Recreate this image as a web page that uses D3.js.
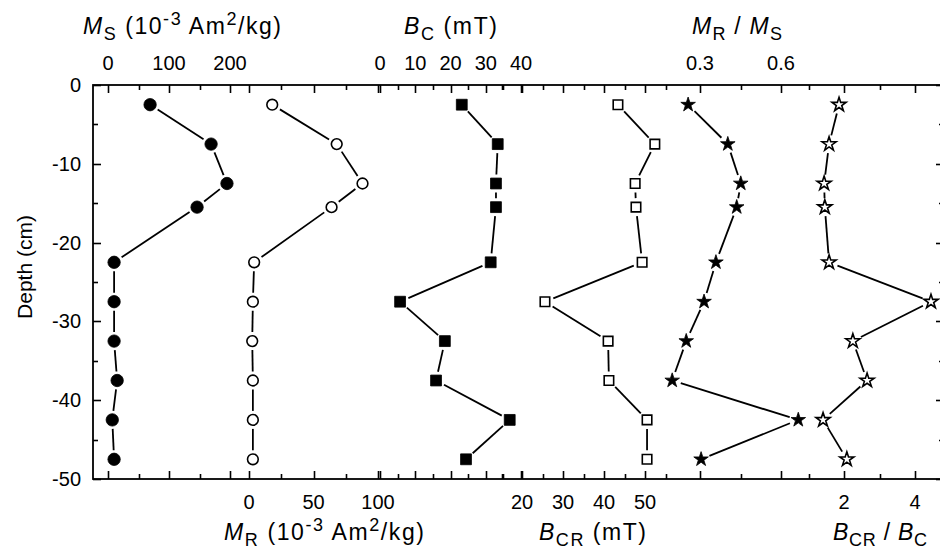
<!DOCTYPE html>
<html>
<head>
<meta charset="utf-8">
<script src="https://cdn.jsdelivr.net/npm/d3@7"></script>
<style>
  html, body { margin: 0; padding: 0; background: #fff; overflow: hidden; }
  svg { display: block; font-family: "Liberation Sans", Arial, sans-serif; }
</style>
</head>
<body>
<svg id="chart" width="940" height="552"></svg>
<script>
// Depth profile of magnetic parameters (six side-by-side panels sharing one depth axis)
const depth = [-2.5, -7.5, -12.5, -15.5, -22.5, -27.5, -32.5, -37.5, -42.5, -47.5];
const ms    = [69, 169, 195, 146, 10, 10, 10, 15, 7, 10];          // 10^-3 Am2/kg
const mr    = [18, 68, 88, 64, 4, 3, 2.5, 3, 3, 3];                 // 10^-3 Am2/kg
const bc    = [23.2, 33.4, 32.9, 32.9, 31.4, 5.7, 18.4, 15.9, 36.8, 24.4];   // mT
const bcr   = [43.4, 52.4, 47.6, 47.8, 49.3, 25.6, 41.0, 41.2, 50.5, 50.5];  // mT
const mrms  = [0.256, 0.403, 0.451, 0.436, 0.359, 0.315, 0.249, 0.197, 0.664, 0.304];
const bcrbc = [1.86, 1.58, 1.44, 1.46, 1.58, 4.45, 2.25, 2.65, 1.41, 2.08];

const depthTicks = [0, -10, -20, -30, -40, -50];
const depthMinor = [-5, -15, -25, -35, -45];
const msTicks = [0, 100, 200],            msMinor = [50, 150];
const mrTicks = [0, 50, 100],             mrMinor = [25, 75];
const bcTicks = [0, 10, 20, 30, 40],      bcMinor = [5, 15, 25, 35];
const bcrTicks = [20, 30, 40, 50],        bcrMinor = [15, 25, 35, 45, 55];
const mrmsTicks = [0.3, 0.6],             mrmsMinor = [0.45];
const ratioTicks = [2, 4],                ratioMinor = [1, 3];

const svg = d3.select("#chart");
const L = 93, R = 944, T = 85, B = 479;

const y = d3.scaleLinear().domain([0, -50]).range([T, B]);

// x scales for each panel
const xMS    = d3.scaleLinear().domain([0, 200]).range([108, 230]);
const xMR    = d3.scaleLinear().domain([0, 100]).range([249, 378]);
const xBC    = d3.scaleLinear().domain([0, 40]).range([380, 521]);
const xBCR   = d3.scaleLinear().domain([20, 50]).range([522, 645]);
const xMRMS  = d3.scaleLinear().domain([0.3, 0.6]).range([700, 781]);
const xRatio = d3.scaleLinear().domain([2, 4]).range([844, 915]);

const g = svg.append("g");

// ticks on top and bottom frame edges, pointing inward, for every panel axis
function hTicks(scale, major, minor) {
  const all = major.map(v => ({v, len: 8})).concat(minor.map(v => ({v, len: 5})));
  all.forEach(d => {
    const x = Math.round(scale(d.v)) + 0.5;
    g.append("line").attr("x1", x).attr("x2", x).attr("y1", T).attr("y2", T + d.len)
      .attr("stroke", "#000").attr("stroke-width", 1.6);
    g.append("line").attr("x1", x).attr("x2", x).attr("y1", B).attr("y2", B - d.len)
      .attr("stroke", "#000").attr("stroke-width", 1.6);
  });
}
hTicks(xMS, msTicks, msMinor);
hTicks(xMR, mrTicks, mrMinor);
hTicks(xBC, bcTicks, bcMinor);
hTicks(xBCR, bcrTicks, bcrMinor);
hTicks(xMRMS, mrmsTicks, mrmsMinor);
hTicks(xRatio, ratioTicks, ratioMinor);

// depth ticks on left and right edges
depthTicks.map(v => ({v, len: 8})).concat(depthMinor.map(v => ({v, len: 5}))).forEach(d => {
  const yy = Math.round(y(d.v)) + 0.5;
  g.append("line").attr("x1", L).attr("x2", L + d.len).attr("y1", yy).attr("y2", yy)
    .attr("stroke", "#000").attr("stroke-width", 1.6);
  g.append("line").attr("x1", R).attr("x2", R - d.len).attr("y1", yy).attr("y2", yy)
    .attr("stroke", "#000").attr("stroke-width", 1.6);
});

// frame
g.append("rect").attr("x", L).attr("y", T).attr("width", R - L).attr("height", B - T)
  .attr("fill", "none").attr("stroke", "#000").attr("stroke-width", 1.8);

// tick labels
const tickFont = 20;
depthTicks.forEach(v => {
  g.append("text").attr("x", 81).attr("y", y(v)).attr("dy", "0.35em")
    .attr("text-anchor", "end").attr("font-size", tickFont).text(String(v));
});
function topLabels(scale, vals) {
  vals.forEach(v => g.append("text").attr("x", scale(v)).attr("y", 70)
    .attr("text-anchor", "middle").attr("font-size", tickFont).text(String(v)));
}
function bottomLabels(scale, vals) {
  vals.forEach(v => g.append("text").attr("x", scale(v)).attr("y", 509)
    .attr("text-anchor", "middle").attr("font-size", tickFont).text(String(v)));
}
topLabels(xMS, msTicks);
topLabels(xBC, bcTicks);
topLabels(xMRMS, mrmsTicks);
bottomLabels(xMR, mrTicks);
bottomLabels(xBCR, bcrTicks);
bottomLabels(xRatio, ratioTicks);

// axis titles with italic symbols, subscripts and superscripts
function richTitle(x0, yb, width, parts) {
  const t = g.append("text").attr("x", x0).attr("y", yb).attr("text-anchor", "start")
    .attr("font-size", 23).attr("textLength", width).attr("lengthAdjust", "spacing");
  let shift = 0;
  parts.forEach(p => {
    const [txt, kind] = p;
    const s = t.append("tspan").text(txt);
    let target = 0;
    if (kind === "sub") { s.attr("font-size", 18); target = 6; }
    if (kind === "sup") { s.attr("font-size", 18); target = -9; }
    if (kind === "i") s.attr("font-style", "italic");
    if (target !== shift) { s.attr("dy", target - shift); shift = target; }
  });
}
richTitle(83, 34, 198, [["M", "i"], ["S", "sub"], [" (10", ""], ["-3", "sup"], [" Am", ""], ["2", "sup"], ["/kg)", ""]]);
richTitle(404, 34, 93, [["B", "i"], ["C", "sub"], [" (mT)", ""]]);
richTitle(692, 34, 90, [["M", "i"], ["R", "sub"], [" / ", ""], ["M", "i"], ["S", "sub"]]);
richTitle(224, 540, 200, [["M", "i"], ["R", "sub"], [" (10", ""], ["-3", "sup"], [" Am", ""], ["2", "sup"], ["/kg)", ""]]);
richTitle(539, 540, 107, [["B", "i"], ["CR", "sub"], [" (mT)", ""]]);
richTitle(833, 540, 94, [["B", "i"], ["CR", "sub"], [" / ", ""], ["B", "i"], ["C", "sub"]]);

g.append("text").attr("transform", "translate(32,267) rotate(-90)")
  .attr("text-anchor", "middle").attr("font-size", 21).text("Depth (cm)");

// profiles: line segments with a small gap around each symbol, then symbols
function profile(scale, vals, symbol, filled) {
  const pts = vals.map((v, i) => [scale(v), y(depth[i])]);
  const gap = 9;
  for (let i = 0; i < pts.length - 1; i++) {
    const [x1, y1] = pts[i], [x2, y2] = pts[i + 1];
    const dx = x2 - x1, dy = y2 - y1, len = Math.hypot(dx, dy);
    if (len <= 2 * gap) continue;
    const ux = dx / len, uy = dy / len;
    g.append("line")
      .attr("x1", x1 + ux * gap).attr("y1", y1 + uy * gap)
      .attr("x2", x2 - ux * gap).attr("y2", y2 - uy * gap)
      .attr("stroke", "#000").attr("stroke-width", 1.8);
  }
  const sizes = { circle: filled ? 120 : 90, square: filled ? 118 : 90, star: filled ? 66 : 62 };
  const types = { circle: d3.symbolCircle, square: d3.symbolSquare, star: d3.symbolStar };
  const sym = d3.symbol().type(types[symbol]).size(sizes[symbol]);
  pts.forEach(([px, py]) => {
    g.append("path").attr("d", sym()).attr("transform", `translate(${px},${py})`)
      .attr("fill", filled ? "#000" : "#fff")
      .attr("stroke", "#000").attr("stroke-width", filled ? 0.8 : 1.6)
      .attr("stroke-linejoin", "miter");
  });
}
profile(xMS, ms, "circle", true);
profile(xMR, mr, "circle", false);
profile(xBC, bc, "square", true);
profile(xBCR, bcr, "square", false);
profile(xMRMS, mrms, "star", true);
profile(xRatio, bcrbc, "star", false);
</script>
</body>
</html>
